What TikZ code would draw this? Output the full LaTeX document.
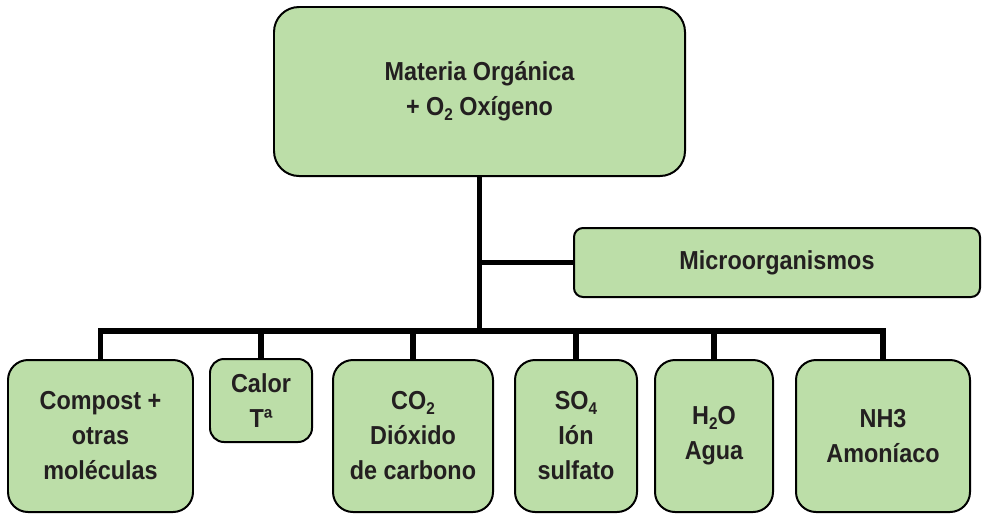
\documentclass[tikz,border=0pt]{standalone}
\usepackage{fontspec}
\setmainfont{Liberation Sans}[FakeStretch=0.9]
\definecolor{verdecaja}{RGB}{188,222,168}
\definecolor{textocaja}{RGB}{35,31,32}
\newcommand{\indice}[1]{\raisebox{-0.35ex}{\fontsize{17}{17}\selectfont #1}}
\tikzset{
	caja/.style={draw=black, fill=verdecaja, line width = 0.7mm, text=textocaja, align=center, inner sep=0pt, font=\fontsize{26}{35}\selectfont\bfseries},
	enlace/.style={line width = 1.8mm}
}
\begin{document}
\begin{tikzpicture}[x=1pt,y=-1pt]
	\useasboundingbox (0,0) rectangle (982,515);
	
	\node[caja, rounded corners=25pt, minimum width=411pt, minimum height=169pt] (materia) at (479.5,91.5) {Materia Orgánica\\+ O\indice{2} Oxígeno};
	\node[caja, rounded corners=9pt, minimum width=406pt, minimum height=69pt] (micro) at (777,262.5) {Microorganismos};
	
	\node[caja, rounded corners=20pt, minimum width=185pt, minimum height=152pt] (compost) at (100.5,436) {Compost +\\otras\\moléculas};
	\node[caja, rounded corners=14pt, minimum width=102pt, minimum height=83pt] (calor) at (261,400.5) {Calor\\Tª};
	\node[caja, rounded corners=20pt, minimum width=160pt, minimum height=152pt] (dioxido) at (413,436) {CO\indice{2}\\Dióxido\\de carbono};
	\node[caja, rounded corners=20pt, minimum width=122pt, minimum height=152pt] (sulfato) at (576,436) {SO\indice{4}\\Ión\\sulfato};
	\node[caja, rounded corners=20pt, minimum width=118pt, minimum height=152pt] (agua) at (714,436) {H\indice{2}O\\Agua};
	\node[caja, rounded corners=20pt, minimum width=174pt, minimum height=152pt] (amoniaco) at (883,436) {NH3\\Amoníaco};
	
	\coordinate (bus) at (0,331);
	
	\draw[enlace] (materia.south) -- (materia.south |- bus);
	\draw[enlace] (materia.south |- micro.west) -- (micro.west);
	\draw[enlace] (compost.north) -- (compost.north |- bus) -- (amoniaco.north |- bus) -- (amoniaco.north);
	\foreach \n in {calor,dioxido,sulfato,agua}
		\draw[enlace] (\n.north |- bus) -- (\n.north);
\end{tikzpicture}
\end{document}
